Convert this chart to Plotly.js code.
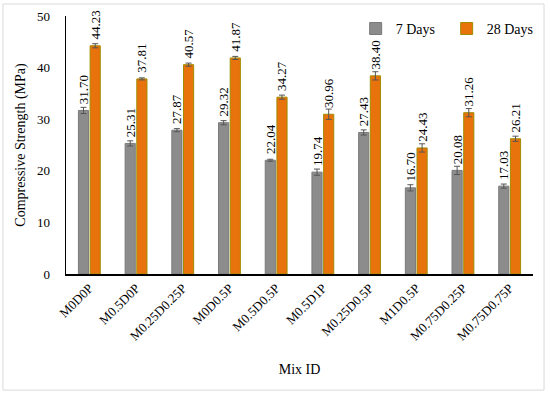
<!DOCTYPE html>
<html>
<head>
<meta charset="utf-8">
<script src="https://cdn.plot.ly/plotly-3.0.1.min.js"></script>
<style>html,body{margin:0;padding:0;background:#fff;} #chart{width:550px;height:395px;}</style>
</head>
<body>
<div id="chart"></div>
<script>
const categories = ["M0D0P","M0.5D0P","M0.25D0.25P","M0D0.5P","M0.5D0.5P","M0.5D1P","M0.25D0.5P","M1D0.5P","M0.75D0.25P","M0.75D0.75P"];
const days7 = [31.70,25.31,27.87,29.32,22.04,19.74,27.43,16.70,20.08,17.03];
const days28 = [44.23,37.81,40.57,41.87,34.27,30.96,38.40,24.43,31.26,26.21];
const err7 = [0.6,0.5,0.3,0.4,0.2,0.6,0.5,0.6,0.8,0.4];
const err28 = [0.4,0.2,0.3,0.3,0.4,1.0,0.8,0.8,0.8,0.5];

const serif = "Liberation Serif";
const lbl = v => "\u00a0" + v.toFixed(2);

const traces = [
  {type:"bar", name:"7 Days", x:categories, y:days7,
   marker:{color:"#8c8c8c", line:{color:"#7a7a7a", width:1}},
   error_y:{type:"data", array:err7, visible:true, color:"#555555", thickness:1, width:3},
   text:days7.map(lbl), textposition:"outside", textangle:-90, constraintext:"none",
   cliponaxis:false, textfont:{family:serif, size:13, color:"#000"}},
  {type:"bar", name:"28 Days", x:categories, y:days28,
   marker:{color:"#e8720c", line:{color:"#a08c00", width:1}},
   error_y:{type:"data", array:err28, visible:true, color:"#555555", thickness:1, width:3},
   text:days28.map(lbl), textposition:"outside", textangle:-90, constraintext:"none",
   cliponaxis:false, textfont:{family:serif, size:13, color:"#000"}}
];

const layout = {
  width:550, height:395,
  margin:{l:66, r:17, t:16, b:121},
  paper_bgcolor:"#fff", plot_bgcolor:"#fff",
  font:{family:serif, size:13, color:"#000"},
  barmode:"group", bargap:0.5, bargroupgap:0.13,
  xaxis:{showline:true, linecolor:"#000", linewidth:1.5, showgrid:false, ticks:"",
         tickangle:-45, tickfont:{family:serif, size:13},
         title:{text:"Mix ID", font:{family:serif, size:14}, standoff:22}},
  yaxis:{range:[0,50], dtick:10, showline:true, linecolor:"#000", linewidth:1.5, showgrid:false,
         zeroline:false, ticks:"", ticklabelstandoff:12, tickfont:{family:serif, size:13},
         title:{text:"Compressive Strength (MPa)", font:{family:serif, size:14}, standoff:8}},
  legend:{orientation:"h", x:1.01, xanchor:"right", y:0.95, yanchor:"middle",
          font:{family:serif, size:14}, itemwidth:30, entrywidth:46, entrywidthmode:"pixels",
          bgcolor:"rgba(0,0,0,0)"},
  shapes:[{type:"rect", xref:"paper", yref:"paper", x0:-0.135, x1:1.0236, y0:-0.45, y1:1.0465,
           line:{color:"#d9d9d9", width:1}, fillcolor:"rgba(0,0,0,0)", layer:"below"}]
};

Plotly.newPlot("chart", traces, layout, {displayModeBar:false, staticPlot:true});
</script>
</body>
</html>
